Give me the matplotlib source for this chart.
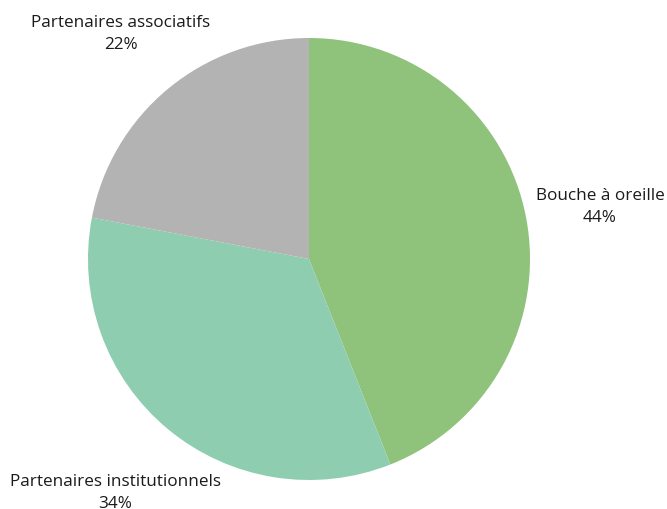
import matplotlib
matplotlib.use("Agg")
import matplotlib.pyplot as plt

plt.rcParams['font.family'] = ['Open Sans', 'DejaVu Sans']

categories = ["Bouche à oreille", "Partenaires institutionnels", "Partenaires associatifs"]
values = [44, 34, 22]
colors = ["#8fc27a", "#8ecdb0", "#b3b3b3"]

fig = plt.figure(figsize=(6.67, 5.10), dpi=100)
ax = fig.add_axes([0, 0, 1, 1])

ax.pie(values, colors=colors, startangle=90, counterclock=False,
       center=(309, 250), radius=221, frame=True,
       wedgeprops={'linewidth': 0})
ax.set_xlim(0, 667)
ax.set_ylim(0, 510)
ax.set_aspect('equal')
ax.axis('off')

# label placement, taken from the reference layout
label_pos = [(600, 303), (115, 17), (121, 476)]
for name, v, (x, y) in zip(categories, values, label_pos):
    ax.text(x, y, f"{name}\n{v}%", ha='center', va='center',
            fontsize=12.3, color='#1a1a1a', linespacing=1.5)

fig.savefig("out.png", dpi=100)
